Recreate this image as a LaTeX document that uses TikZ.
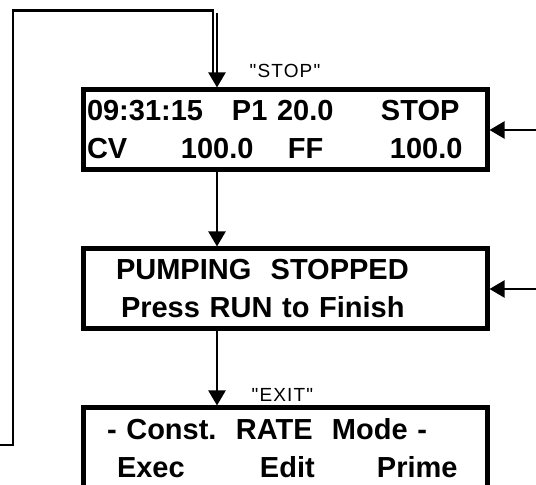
\documentclass[tikz,border=0pt]{standalone}
\usepackage{fontspec}
\setmainfont{Liberation Sans}
\newfontfamily\keyfont[LetterSpace=6]{Liberation Sans}
\usetikzlibrary{positioning,arrows.meta}
\frenchspacing

\begin{document}
\begin{tikzpicture}[x=1pt, y=1pt,
	lcd/.style={draw, line width=5pt, minimum width=404pt, minimum height=80pt,
		text width=396pt, inner xsep=4pt, inner ysep=2pt, align=left,
		font=\bfseries\fontsize{29pt}{38pt}\selectfont},
	keylabel/.style={anchor=base west, inner sep=0pt,
		font=\keyfont\fontsize{19pt}{21pt}\selectfont},
	flow/.style={-{Triangle[length=15pt, width=17pt]}, line width=2.2pt},
	feed/.style={line width=2.2pt}]

	\useasboundingbox (0,0) rectangle (536,485);

	\node [lcd] (status) at (285,355)
		{\makebox[145pt][l]{09:31:15}\makebox[149pt][l]{P1 20.0}STOP\\
		\makebox[94pt][l]{CV}\makebox[107pt][l]{100.0}\makebox[102pt][l]{FF}100.0};

		\node [lcd, below=74pt of status] (pump)
		{\hspace*{29pt}PUMPING~~STOPPED\\
		\hspace*{34pt}Press RUN to Finish};

		\node [lcd, below=74pt of pump] (menu)
		{\hspace*{20pt}-~Const.~~RATE~~Mode~-\\
		\hspace*{30pt}\makebox[143pt][l]{Exec}\makebox[117pt][l]{Edit}Prime};

		\node [keylabel] (stopkey) at ([xshift=169pt, yshift=10pt]status.north west) {"STOP"};
		\node [keylabel] (exitkey) at ([xshift=171pt, yshift=4pt]menu.north west) {"EXIT"};

		\draw [flow] ([xshift=-68pt]status.south) -- ([xshift=-68pt]pump.north);
		\draw [flow] ([xshift=-68pt]pump.south) -- ([xshift=-68pt]menu.north);

		\coordinate [right=48pt of status.east] (statusin);
		\coordinate [right=48pt of pump.east] (pumpin);
		\draw [flow] (statusin) -- (status.east);
		\draw [flow] (pumpin) -- (pump.east);

		\coordinate (loopin) at (-2,40);
		\coordinate (loopcorner) at (13,474.5);
		\coordinate (loopdrop) at (213,410);
		\coordinate (drop) at ([xshift=-68pt]status.north);
		\draw [feed] (loopin) -| (loopcorner) -| (loopdrop);
		\draw [flow] (drop |- 0,472) -- (drop);

	\end{tikzpicture}
\end{document}
